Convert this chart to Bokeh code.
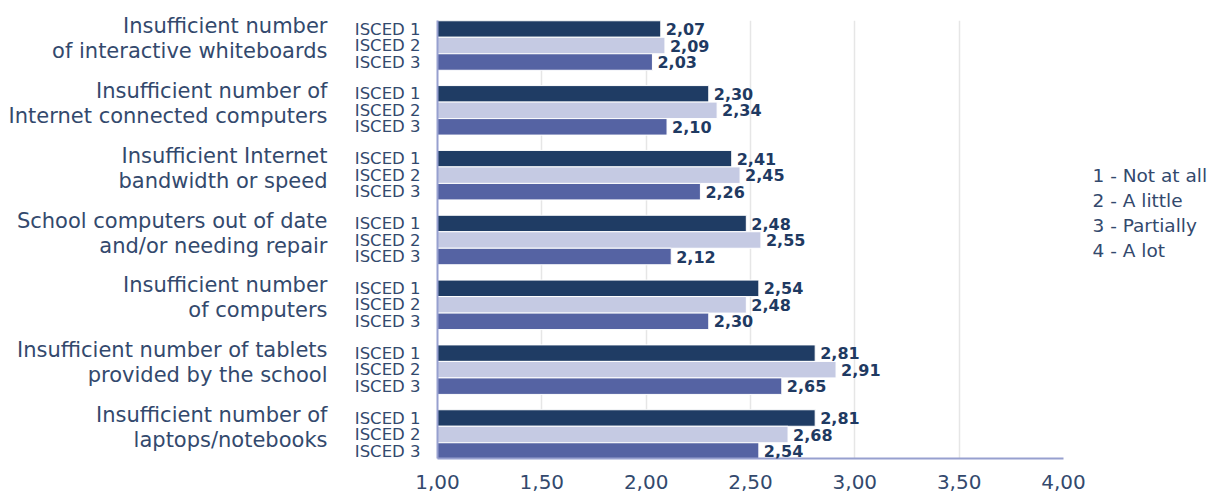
from bokeh.plotting import figure
from bokeh.models import Range1d, ColumnDataSource, LabelSet, FixedTicker, LinearAxis
from bokeh.core.properties import value
from bokeh.embed import file_html
from bokeh.resources import INLINE

# ---- data ----
categories = [
    "Insufficient number\nof interactive whiteboards",
    "Insufficient number of\nInternet connected computers",
    "Insufficient Internet\nbandwidth or speed",
    "School computers out of date\nand/or needing repair",
    "Insufficient number\nof computers",
    "Insufficient number of tablets\nprovided by the school",
    "Insufficient number of\nlaptops/notebooks",
]
series_names = ["ISCED 1", "ISCED 2", "ISCED 3"]
isced1 = [2.07, 2.30, 2.41, 2.48, 2.54, 2.81, 2.81]
isced2 = [2.09, 2.34, 2.45, 2.55, 2.48, 2.91, 2.68]
isced3 = [2.03, 2.10, 2.26, 2.12, 2.30, 2.65, 2.54]
tick_values = [1.0, 1.5, 2.0, 2.5, 3.0, 3.5, 4.0]
tick_labels = ["1,00", "1,50", "2,00", "2,50", "3,00", "3,50", "4,00"]
legend_lines = ["1 - Not at all", "2 - A little", "3 - Partially", "4 - A lot"]

# ---- layout ----
FONT = "DejaVu Sans"
TXT = "#33496D"
VAL = "#1F3A62"
COLORS = ["#1F3C64", "#C5CAE3", "#5563A3"]
AXIS_C = "#97A0CF"

FL, FR, FT, FB = 437, 1063, 20, 458
FW, FH = FR - FL, FB - FT
n = len(categories)
PPU = (FH - 49) / (n - 1)          # pixels per category unit
Y1 = (n - 1) + 25 / PPU
Y0 = -24 / PPU

def px_to_y(py):
    return Y1 - (py - FT) / PPU

p = figure(frame_width=FW, frame_height=FH,
           x_range=Range1d(tick_values[0], tick_values[-1]), y_range=Range1d(Y0, Y1),
           output_backend="svg", toolbar_location=None,
           min_border_left=FL, min_border_right=1212 - FR, min_border_top=FT, min_border_bottom=38)
p.outline_line_color = None
p.background_fill_color = "white"
p.border_fill_color = "white"

centers = [(n - 1 - k) for k in range(n)]
offsets = [16.5 / PPU, 0.0, -16.5 / PPU]
bar_h = 16.5 / PPU

isced_ticks, isced_over = [], {}
for vals, name, col, off in zip([isced1, isced2, isced3], series_names, COLORS, offsets):
    ys = [c + off for c in centers]
    for y in ys:
        isced_ticks.append(y)
        isced_over[y] = name
    src = ColumnDataSource(dict(y=ys, v=vals, lab=[f"{v:.2f}".replace(".", ",") for v in vals]))
    p.hbar(y="y", left=tick_values[0], right="v", height=bar_h, source=src,
           fill_color=col, line_color="white", line_width=1)
    p.add_layout(LabelSet(x="v", y="y", text="lab", source=src, x_offset=5,
                          text_baseline="middle", text_font=value(FONT), text_font_style="bold",
                          text_font_size="16px", text_color=VAL))

# axes
p.xaxis.ticker = FixedTicker(ticks=tick_values)
p.xaxis.major_label_overrides = dict(zip(tick_values, tick_labels))
p.xaxis.axis_line_color = AXIS_C
p.xaxis.axis_line_width = 2
p.xaxis.major_tick_line_color = None
p.xaxis.minor_tick_line_color = None
p.xaxis.major_tick_out = 0
p.xaxis.major_label_standoff = 16
p.xaxis.major_label_text_font = FONT
p.xaxis.major_label_text_font_size = "20px"
p.xaxis.major_label_text_color = TXT

# inner left axis: ISCED labels
ya = p.yaxis[0]
ya.ticker = FixedTicker(ticks=isced_ticks)
ya.major_label_overrides = isced_over
ya.axis_line_color = AXIS_C
ya.axis_line_width = 2
ya.major_tick_line_color = None
ya.minor_tick_line_color = None
ya.major_tick_out = 0
ya.major_tick_in = 0
ya.major_label_standoff = 17
ya.major_label_text_font = FONT
ya.major_label_text_font_size = "16.5px"
ya.major_label_text_color = TXT

# outer left axis: category labels (one tick per text line)
line_gap = 12.5 / PPU
cat_ticks, cat_over = [], {}
for c, cat in zip(centers, categories):
    l1, l2 = cat.split("\n")
    y1 = c + 7 / PPU + line_gap
    y2 = c + 7 / PPU - line_gap
    cat_ticks += [y1, y2]
    cat_over[y1] = l1
    cat_over[y2] = l2
ca = LinearAxis(ticker=FixedTicker(ticks=cat_ticks), major_label_overrides=cat_over,
                axis_line_color=None, major_tick_line_color=None, minor_tick_line_color=None,
                major_tick_out=0, major_tick_in=0, major_label_standoff=24,
                major_label_text_font=FONT, major_label_text_font_size="21px",
                major_label_text_color=TXT)
p.add_layout(ca, "left")

# right axis: scale legend
leg_ticks = [px_to_y(175 + 25 * i) for i in range(len(legend_lines))]
ra = LinearAxis(ticker=FixedTicker(ticks=leg_ticks), major_label_overrides=dict(zip(leg_ticks, legend_lines)),
                axis_line_color=None, major_tick_line_color=None, minor_tick_line_color=None,
                major_tick_out=0, major_tick_in=0, major_label_standoff=29,
                major_label_text_font=FONT, major_label_text_font_size="18.5px",
                major_label_text_color=TXT)
p.add_layout(ra, "right")

p.xgrid.grid_line_color = "#E6E6E6"
p.xgrid.grid_line_width = 1.5
p.ygrid.grid_line_color = None

open("out.html", "w").write(file_html(p, INLINE))
